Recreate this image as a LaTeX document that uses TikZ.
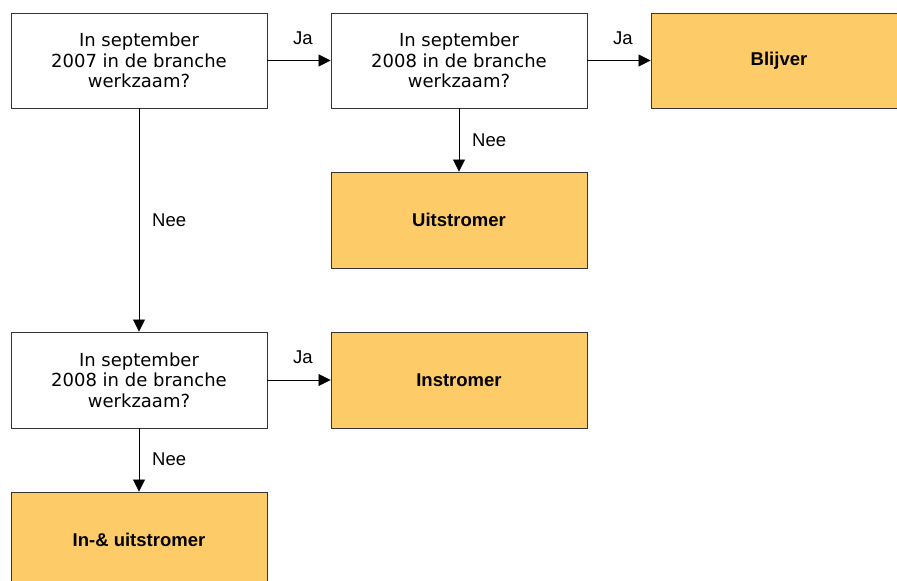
\documentclass[tikz,border=0pt]{standalone}
\usepackage{fontspec}
\setmainfont{Liberation Sans}
\newfontfamily\qfont{DejaVu Sans}
\usetikzlibrary{arrows.meta}
\definecolor{boxfill}{HTML}{FECB69}
\definecolor{edgegray}{HTML}{333333}
\tikzset{
  qbox/.style={draw=edgegray, line width=0.9pt, fill=white, minimum width=256pt, minimum height=95pt, inner sep=0pt, align=center, font=\qfont\fontsize{18}{20.5}\selectfont},
  rbox/.style={draw=edgegray, line width=0.9pt, fill=boxfill, minimum width=256pt, minimum height=95pt, inner sep=0pt, align=center, font=\bfseries\fontsize{18.5}{21}\selectfont},
  arr/.style={draw=black, line width=0.8pt, -{Triangle[length=12pt,width=12pt]}},
  lab/.style={inner sep=0pt, font=\fontsize{18.5}{21}\selectfont}
}
\begin{document}
\begin{tikzpicture}[x=1pt,y=-1pt]
\useasboundingbox (0,0) rectangle (897,581);
\node[qbox] (q1) at (139,60.5) {In september\\2007 in de branche\\werkzaam?};
\node[qbox] (q2) at (459,60.5) {In september\\2008 in de branche\\werkzaam?};
\node[rbox] (blijver) at (779,60.5) {Blijver};
\node[rbox, minimum height=96pt] (uit) at (459,220) {Uitstromer};
\node[qbox, minimum height=96pt] (q3) at (139,380) {In september\\2008 in de branche\\werkzaam?};
\node[rbox, minimum height=96pt] (in) at (459,380) {Instromer};
\node[rbox, minimum height=96pt] (inuit) at (139,540) {In-\& uitstromer};
\draw[arr] (q1.east) -- (q2.west);
\draw[arr] (q2.east) -- (blijver.west);
\draw[arr] (q2.south) -- (uit.north);
\draw[arr] (q1.south) -- (q3.north);
\draw[arr] (q3.east) -- (in.west);
\draw[arr] (q3.south) -- (inuit.north);
\node[lab] (ja1) at (303,38) {Ja};
\node[lab] (ja2) at (623,38) {Ja};
\node[lab] (ja3) at (303,357) {Ja};
\node[lab, anchor=west] (nee1) at (472,140) {Nee};
\node[lab, anchor=west] (nee2) at (152,220) {Nee};
\node[lab, anchor=west] (nee3) at (152,459) {Nee};
\end{tikzpicture}
\end{document}
